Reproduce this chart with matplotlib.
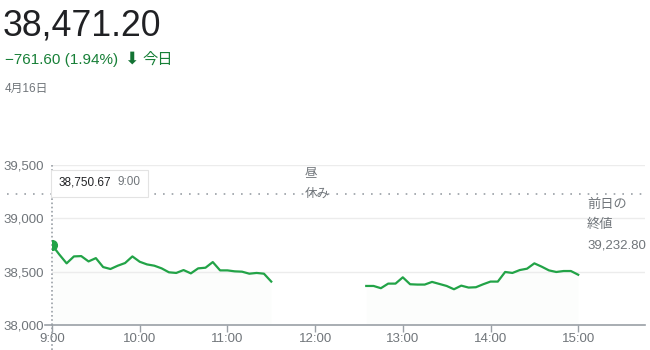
import matplotlib
matplotlib.use("Agg")
import matplotlib.pyplot as plt
import matplotlib.transforms as mtransforms
import pandas as pd

plt.rcParams['font.family'] = ['Liberation Sans', 'Noto Sans CJK JP', 'DejaVu Sans']

# morning session 9:00-11:30, afternoon session 12:35-15:00 (5 min bars)
am_times = pd.date_range("2024-04-16 09:00", "2024-04-16 11:30", freq="5min")
pm_times = pd.date_range("2024-04-16 12:35", "2024-04-16 15:00", freq="5min")

am_values = [38750.67, 38661, 38578, 38643, 38646, 38596, 38627, 38543, 38525, 38556,
             38581, 38643, 38593, 38568, 38556, 38531, 38494, 38488, 38515, 38484,
             38531, 38537, 38590, 38512, 38512, 38503, 38500, 38481, 38488, 38481,
             38407]
pm_values = [38366, 38366, 38345, 38388, 38388, 38447, 38382, 38379, 38379, 38404,
             38385, 38366, 38335, 38369, 38351, 38354, 38382, 38407, 38407, 38497,
             38488, 38515, 38528, 38578, 38547, 38512, 38497, 38506, 38506, 38471.20]

prev_close = 39232.80
last_price = 38471.20
change = -761.60
change_pct = 1.94
yticks = [38000, 38500, 39000, 39500]
xtick_labels = ["9:00", "10:00", "11:00", "12:00", "13:00", "14:00", "15:00"]

green = "#22a347"
text_green = "#188038"
gray = "#70757a"


def minutes(ts):
    return [(t.hour - 9) * 60 + t.minute for t in ts]


fig = plt.figure(figsize=(6.5, 3.5), dpi=100)
ax = fig.add_axes([52 / 650, 25 / 350, 593 / 650, 160 / 350])

am_x = minutes(am_times)
pm_x = minutes(pm_times)
ax.plot(am_x, am_values, color=green, lw=1.6, solid_joinstyle='round', zorder=3)
ax.plot(pm_x, pm_values, color=green, lw=1.6, solid_joinstyle='round', zorder=3)
ax.fill_between(am_x, am_values, 38000, color=green, alpha=0.012, lw=0)
ax.fill_between(pm_x, pm_values, 38000, color=green, alpha=0.012, lw=0)
ax.plot(am_x[0], am_values[0], 'o', color=green, ms=7, zorder=4)

ax.set_xlim(0, 405.7)
ax.set_ylim(38000, 39500)

for v in yticks[1:]:
    ax.axhline(v, color="#ececec", lw=1, zorder=1)

# previous close dotted line, extends into the label area
ax.plot([-45 / 593, 1], [(prev_close - 38000) / 1500] * 2, transform=ax.transAxes,
        clip_on=False, color="#9aa0a6", lw=1.2, ls=(0, (1, 4.2)), zorder=2)

# crosshair at 9:00
tr = mtransforms.blended_transform_factory(ax.transData, ax.transAxes)
ax.plot([0, 0], [-25 / 160, 1], transform=tr, clip_on=False, color="#9aa0a6",
        lw=1.2, ls=(0, (1, 1.5)), zorder=2)

for s in ["top", "right", "left"]:
    ax.spines[s].set_visible(False)
ax.spines["bottom"].set_color("#9aa0a6")
ax.spines["bottom"].set_linewidth(1.2)
ax.plot([-7 / 593, 0], [0, 0], transform=ax.transAxes, clip_on=False,
        color="#9aa0a6", lw=1.2)

ax.set_xticks([i * 60 for i in range(len(xtick_labels))])
ax.set_xticklabels(xtick_labels)
ax.set_yticks(yticks)
ax.set_yticklabels([f"{v:,}" for v in yticks])
ax.tick_params(axis='x', colors="#9aa0a6", labelcolor=gray, labelsize=9.5,
               length=5, width=1, pad=1)
ax.tick_params(axis='y', length=0, labelcolor=gray, labelsize=9.5, pad=6)

# tooltip
box = plt.Rectangle((51 / 650, 1 - 197 / 350), 97 / 650, 27 / 350,
                    transform=fig.transFigure, facecolor="white",
                    edgecolor="#e3e3e3", lw=0.8, zorder=5)
ax.add_patch(box)
box.set_clip_on(False)
ax.text(4.5, 39340, f"{am_values[0]:,.2f}", fontsize=8.5, color="#202124",
        va='center', ha='left', zorder=6)
ax.text(45, 39340, "9:00", fontsize=8.5, color=gray, va='center', ha='left', zorder=6)

# lunch break label
ax.text(173, 39420, "昼", fontsize=9, color=gray, va='center', ha='left')
ax.text(173, 39232.8, "休み", fontsize=9, color=gray, va='center', ha='left')

# previous close label
ax.text(366, 39130, "前日の", fontsize=9.5, color=gray, va='center', ha='left')
ax.text(366, 38935, "終値", fontsize=9.5, color=gray, va='center', ha='left')
ax.text(366, 38745, f"{prev_close:,.2f}", fontsize=9.5, color=gray, va='center', ha='left')

# header
fig.text(3 / 650, 1 - 35 / 350, f"{last_price:,.2f}", fontsize=25.7, color="#202124",
         va='baseline', ha='left')
fig.text(5 / 650, 1 - 64 / 350, f"\u2212{abs(change):.2f} ({change_pct:.2f}%)",
         fontsize=11, color=text_green, va='baseline', ha='left')
fig.text(124 / 650, 1 - 64 / 350, "\u2B07", fontsize=12.5, color="#137333",
         va='baseline', ha='left', family='DejaVu Sans')
fig.text(142 / 650, 1 - 64 / 350, "今日", fontsize=11, color=text_green,
         va='baseline', ha='left')
fig.text(5 / 650, 1 - 92 / 350, "4月16日", fontsize=8.5, color=gray,
         va='baseline', ha='left')

fig.savefig("out.png", dpi=100)
